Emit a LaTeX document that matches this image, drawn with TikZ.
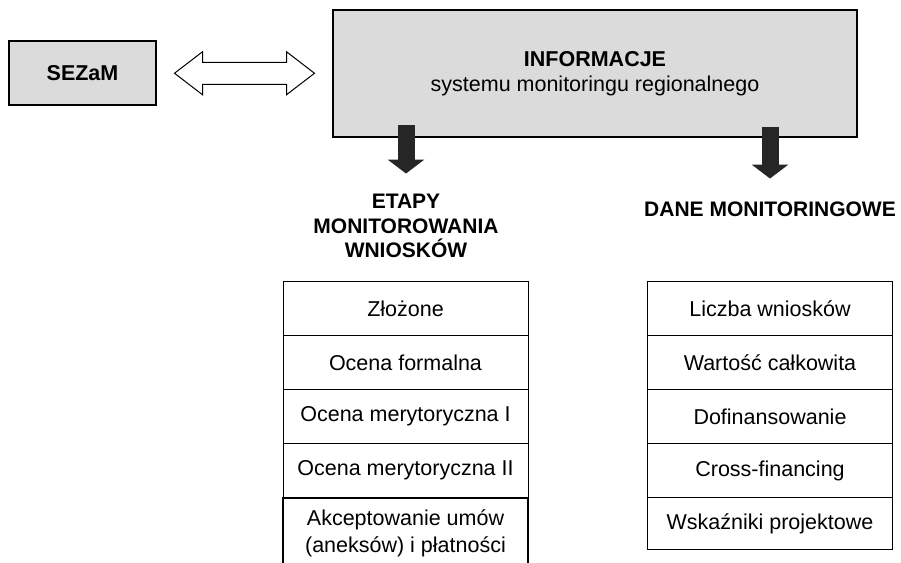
\documentclass[tikz,border=0pt]{standalone}
\usepackage{fontspec}
\setmainfont{Liberation Sans}
\usetikzlibrary{calc,arrows.meta}
\definecolor{boxgray}{gray}{0.86}
\tikzset{
  greybox/.style={draw, line width=1.1pt, fill=boxgray, inner sep=2pt},
  cell/.style={draw, line width=1pt, minimum width=245pt, minimum height=54pt, inner sep=2pt, align=center},
  fatarrow/.style={line width=17pt, black!85, -{Triangle[width=36pt,length=14pt]}},
  heading/.style={font=\fontsize{21}{24.5}\selectfont\bfseries, align=center},
}
\begin{document}
\begin{tikzpicture}[x=1pt, y=-1pt, font=\fontsize{21.5}{27}\selectfont]
        \useasboundingbox (0,0) rectangle (901,562);
        \node[greybox, minimum width=147pt, minimum height=64pt, font=\fontsize{21.5}{27}\selectfont\bfseries] (SEZ) at (82.5,73) {SEZaM};
        \node[greybox, minimum width=524pt, minimum height=127pt, align=center, font=\fontsize{21.5}{25}\selectfont] (INF) at (595,73.5)
          {\textbf{INFORMACJE}\\systemu monitoringu regionalnego};
        \node[heading] (ETA) at (406,226) {ETAPY\\MONITOROWANIA\\WNIOSKÓW};
        \node[heading] (DAN) at (770,209) {DANE MONITORINGOWE};
        \matrix[row sep=-1pt, anchor=north, inner sep=0pt, nodes={cell}] (ST) at (405.5,281)
        {
          \node(S1) {Złożone}; \\
          \node(S2) {Ocena formalna}; \\
          \node(S3) {Ocena merytoryczna I}; \\
          \node(S4) {Ocena merytoryczna II}; \\
          \node(S5)[minimum height=70pt, line width=1.3pt] {Akceptowanie umów\\(aneksów) i płatności}; \\
        };
        \matrix[row sep=-1pt, anchor=north, inner sep=0pt, nodes={cell}] (DT) at (770,281)
        {
          \node(D1) {Liczba wniosków}; \\
          \node(D2) {Wartość całkowita}; \\
          \node(D3) {Dofinansowanie}; \\
          \node(D4) {Cross-financing}; \\
          \node(D5)[minimum height=52pt] {Wskaźniki projektowe}; \\
        };
      \coordinate (M) at ($(SEZ.east)!.5!(INF.west)$);
      \coordinate (L) at (ETA |- INF.south);
      \coordinate (R) at (DAN |- INF.south);
      \draw[line width=1pt, fill=white, line join=miter] ($(M)+(-70,0)$) -- ++(28,-21.5) -- ++(0,10.5) -- ++(84,0) -- ++(0,-10.5)
        -- ++(28,21.5) -- ++(-28,21.5) -- ++(0,-10.5) -- ++(-84,0) -- ++(0,10.5) -- cycle;
      \draw[fatarrow] ([yshift=13pt]L) -- ++(0,49);
      \draw[fatarrow] ([yshift=11pt]R) -- ++(0,52);
      \end{tikzpicture}
\end{document}
